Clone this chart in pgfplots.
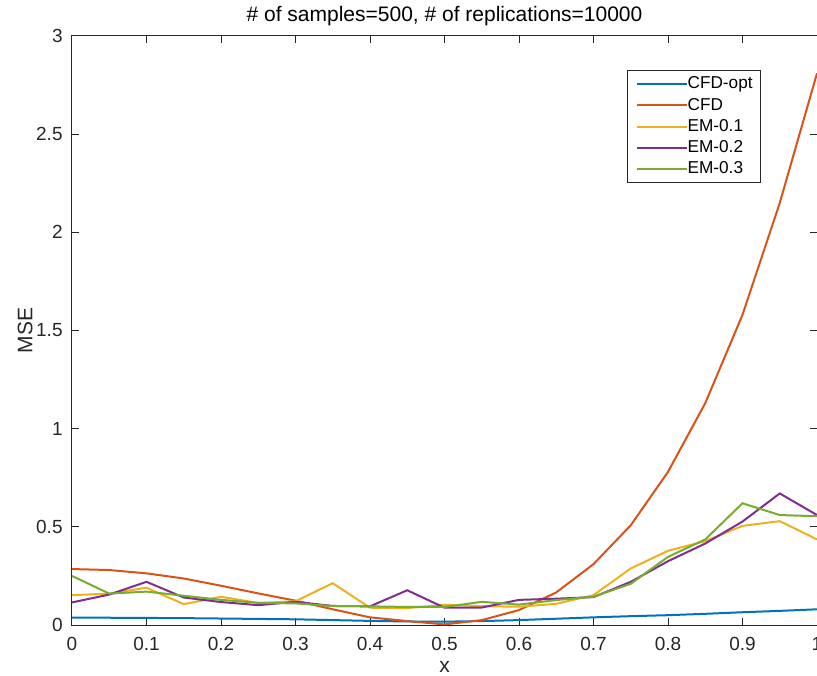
\documentclass[border=0pt]{standalone}
\usepackage{fontspec}
\setmainfont{Liberation Sans}
\usepackage{pgfplots}
\pgfplotsset{compat=1.18}

\definecolor{mblue}{rgb}{0,0.447,0.741}
\definecolor{morange}{rgb}{0.85,0.325,0.098}
\definecolor{myellow}{rgb}{0.929,0.694,0.125}
\definecolor{mpurple}{rgb}{0.494,0.184,0.556}
\definecolor{mgreen}{rgb}{0.466,0.674,0.188}
\definecolor{axgray}{rgb}{0.15,0.15,0.15}

% x, CFD-opt, CFD, EM-0.1, EM-0.2, EM-0.3
\pgfplotstableread{
x    cfdopt cfd   em1   em2   em3
0.00 0.038  0.285 0.152 0.115 0.250
0.05 0.037  0.280 0.160 0.155 0.160
0.10 0.036  0.263 0.190 0.220 0.170
0.15 0.035  0.237 0.106 0.140 0.149
0.20 0.033  0.200 0.144 0.117 0.128
0.25 0.031  0.161 0.112 0.101 0.113
0.30 0.029  0.124 0.121 0.118 0.110
0.35 0.025  0.080 0.213 0.097 0.097
0.40 0.021  0.039 0.088 0.095 0.095
0.45 0.018  0.020 0.086 0.177 0.092
0.50 0.017  0.003 0.103 0.088 0.092
0.55 0.020  0.025 0.096 0.089 0.118
0.60 0.025  0.076 0.093 0.128 0.104
0.65 0.032  0.166 0.108 0.134 0.127
0.70 0.039  0.310 0.152 0.142 0.144
0.75 0.045  0.508 0.288 0.220 0.210
0.80 0.050  0.780 0.378 0.325 0.347
0.85 0.057  1.130 0.427 0.415 0.436
0.90 0.065  1.580 0.505 0.527 0.620
0.95 0.072  2.150 0.529 0.670 0.560
1.00 0.080  2.810 0.436 0.560 0.554
}\datatable

\begin{document}
\begin{tikzpicture}
\begin{axis}[
    scale only axis,
    width=372.5pt,
    height=294.5pt,
    xmin=0, xmax=1,
    ymin=0, ymax=3,
    xtick={0,0.1,...,1},
    ytick={0,0.5,...,3},
    axis line style={axgray, line width=0.5pt},
    major tick style={axgray, line width=0.5pt},
    major tick length=3.7pt,
    tick align=inside,
    /pgf/number format/assume math mode=true,
    tick label style={font=\fontsize{9.5}{11}\selectfont, text=axgray},
    xticklabel style={inner sep=0pt, yshift=-6pt},
    yticklabel style={inner sep=0pt, xshift=-4.5pt},
    title={\# of samples=500, \# of replications=10000},
    title style={font=\fontsize{10.5}{12}\selectfont, inner sep=0pt,
        at={(axis description cs:0.5,1)}, anchor=south, yshift=-1pt},
    xlabel={x},
    ylabel={MSE},
    label style={font=\fontsize{10.5}{12}\selectfont, text=axgray},
    xlabel style={at={(axis description cs:0.5,-0.071)}, anchor=center},
    ylabel style={at={(axis description cs:-0.063,0.5)}, anchor=center},
    every axis plot/.append style={line width=1pt},
    legend style={
        at={(rel axis cs:0.925,0.942)}, anchor=north east,
        font=\fontsize{8.6}{10}\selectfont,
        draw=axgray, line width=0.5pt,
        inner xsep=4pt, inner ysep=2.6pt,
        row sep=2.3pt,
        nodes={inner sep=0pt, text height=6.5pt, text depth=1.8pt},
        cells={anchor=west},
    },
    legend image code/.code={\draw[#1] (0pt,0pt) -- (25pt,0pt);},
    legend cell align=left,
]
\addplot[mblue]   table[x=x, y=cfdopt] {\datatable};
\addplot[morange] table[x=x, y=cfd]    {\datatable};
\addplot[myellow] table[x=x, y=em1]    {\datatable};
\addplot[mpurple] table[x=x, y=em2]    {\datatable};
\addplot[mgreen]  table[x=x, y=em3]    {\datatable};
\legend{CFD-opt, CFD, EM-0.1, EM-0.2, EM-0.3}
\coordinate (SW) at (rel axis cs:0,0);
\coordinate (NE) at (rel axis cs:1,1);
\end{axis}
\pgfresetboundingbox
\path ([shift={(-36pt,-25pt)}]SW) rectangle ([shift={(0pt,18pt)}]NE);
\end{tikzpicture}
\end{document}
